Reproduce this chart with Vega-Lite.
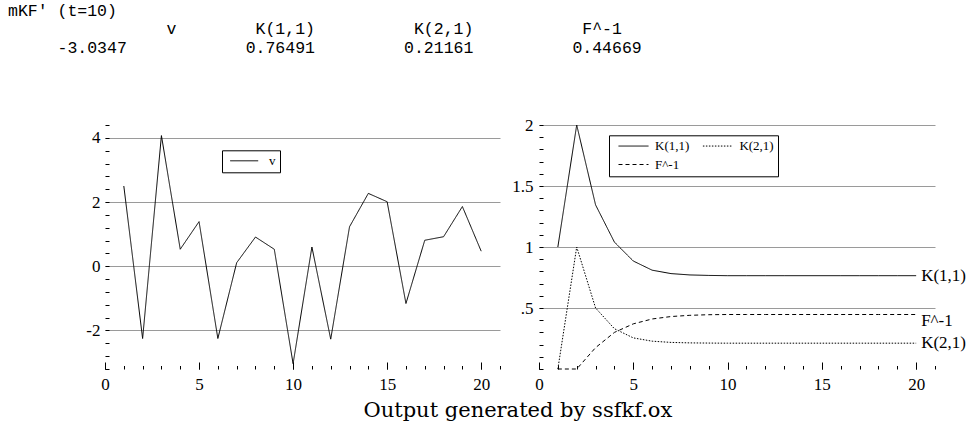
{
  "$schema": "https://vega.github.io/schema/vega-lite/v6.json",
  "background": "white",
  "padding": {"left": 8, "top": 2, "right": 0, "bottom": 0},
  "bounds": "flush",
  "title": {
    "text": ["mKF'\u00a0(t=10)", "\u200b\u00a0\u00a0\u00a0\u00a0\u00a0\u00a0\u00a0\u00a0\u00a0\u00a0\u00a0\u00a0\u00a0\u00a0\u00a0\u00a0v\u00a0\u00a0\u00a0\u00a0\u00a0\u00a0\u00a0\u00a0K(1,1)\u00a0\u00a0\u00a0\u00a0\u00a0\u00a0\u00a0\u00a0\u00a0\u00a0K(2,1)\u00a0\u00a0\u00a0\u00a0\u00a0\u00a0\u00a0\u00a0\u00a0\u00a0\u00a0F^-1", "\u200b\u00a0\u00a0\u00a0\u00a0\u00a0-3.0347\u00a0\u00a0\u00a0\u00a0\u00a0\u00a0\u00a0\u00a0\u00a0\u00a0\u00a0\u00a00.76491\u00a0\u00a0\u00a0\u00a0\u00a0\u00a0\u00a0\u00a0\u00a00.21161\u00a0\u00a0\u00a0\u00a0\u00a0\u00a0\u00a0\u00a0\u00a0\u00a00.44669"],
    "orient": "top",
    "anchor": "start",
    "frame": "group",
    "dx": -97,
    "offset": 60,
    "font": "Liberation Mono",
    "fontSize": 16.5,
    "fontWeight": "normal",
    "color": "black",
    "lineHeight": 18.5
  },
  "vconcat": [
    {
      "bounds": "flush",
      "spacing": 39,
      "resolve": {"scale": {"strokeDash": "independent"}, "legend": {"strokeDash": "independent"}},
      "title": {
        "text": "Output generated by ssfkf.ox",
        "orient": "bottom",
        "anchor": "middle",
        "dx": -8,
        "offset": 8,
        "font": "DejaVu Serif",
        "fontSize": 21,
        "fontWeight": "normal",
        "color": "black"
      },
      "hconcat": [
        {
          "width": 395,
          "height": 244,
          "data": {"values": [
            {"t": 1, "v": 2.50, "series": "v"},
            {"t": 2, "v": -2.25, "series": "v"},
            {"t": 3, "v": 4.07, "series": "v"},
            {"t": 4, "v": 0.53, "series": "v"},
            {"t": 5, "v": 1.39, "series": "v"},
            {"t": 6, "v": -2.25, "series": "v"},
            {"t": 7, "v": 0.11, "series": "v"},
            {"t": 8, "v": 0.91, "series": "v"},
            {"t": 9, "v": 0.53, "series": "v"},
            {"t": 10, "v": -3.0347, "series": "v"},
            {"t": 11, "v": 0.60, "series": "v"},
            {"t": 12, "v": -2.27, "series": "v"},
            {"t": 13, "v": 1.23, "series": "v"},
            {"t": 14, "v": 2.27, "series": "v"},
            {"t": 15, "v": 2.01, "series": "v"},
            {"t": 16, "v": -1.16, "series": "v"},
            {"t": 17, "v": 0.81, "series": "v"},
            {"t": 18, "v": 0.92, "series": "v"},
            {"t": 19, "v": 1.86, "series": "v"},
            {"t": 20, "v": 0.47, "series": "v"}
          ]},
          "layer": [
            {
              "mark": {"type": "line", "color": "black", "strokeWidth": 1},
              "encoding": {
                "x": {"field": "t", "type": "quantitative",
                  "scale": {"domain": [0, 21], "nice": false, "zero": false},
                  "axis": {"orient": "bottom", "values": [0, 5, 10, 15, 20], "ticks": false, "grid": false, "labelPadding": 7, "labelFont": "Liberation Serif", "labelFontSize": 17, "labelColor": "black", "title": null}},
                "y": {"field": "v", "type": "quantitative",
                  "scale": {"domain": [-3.2, 4.4], "nice": false, "zero": false},
                  "axis": {"orient": "left", "values": [-2, 0, 2, 4], "labelExpr": "replace(datum.label, '\u2212', '-')", "ticks": false, "grid": true, "gridColor": "#9a9a9a", "gridWidth": 1, "labelPadding": 5, "labelFont": "Liberation Serif", "labelFontSize": 17, "labelColor": "black", "title": null}},
                "strokeDash": {"field": "series", "type": "nominal",
                  "scale": {"domain": ["v"], "range": [[1, 0]]},
                  "legend": {"orient": "none", "legendX": 117, "legendY": 25.3, "title": null, "strokeColor": "black", "fillColor": "white", "padding": 4, "symbolType": "M-4.667,0H4.667", "symbolSize": 36, "symbolOffset": 11.7, "symbolStrokeWidth": 1, "symbolStrokeColor": "black", "labelFont": "Liberation Serif", "labelFontSize": 13, "labelColor": "black", "labelOffset": 18.3}}
              }
            },
            {
              "mark": {"type": "line", "opacity": 0},
              "encoding": {
                "x": {"field": "t", "type": "quantitative",
                  "axis": {"orient": "bottom", "values": [0, 5, 10, 15, 20], "tickSize": -7, "labels": false, "grid": false, "title": null}},
                "y": {"field": "v", "type": "quantitative",
                  "axis": {"orient": "left", "values": [-3.2, -2.8, -2.4, -2, -1.6, -1.2, -0.8, -0.4, 0, 0.4, 0.8, 1.2, 1.6, 2, 2.4, 2.8, 3.2, 3.6, 4, 4.4], "tickSize": -4, "labels": false, "grid": false, "title": null}}
              }
            },
            {
              "mark": {"type": "line", "opacity": 0},
              "encoding": {
                "x": {"field": "t", "type": "quantitative",
                  "axis": {"orient": "bottom", "values": [0, 1, 2, 3, 4, 5, 6, 7, 8, 9, 10, 11, 12, 13, 14, 15, 16, 17, 18, 19, 20, 21], "tickSize": -3.5, "labels": false, "grid": false, "title": null}},
                "y": {"field": "v", "type": "quantitative", "axis": null}
              }
            }
          ],
          "resolve": {"axis": {"x": "independent", "y": "independent"}}
        },
        {
          "width": 396,
          "height": 244,
          "data": {"values": [
            {"t": 1, "series": "K(1,1)", "value": 1.0},
            {"t": 2, "series": "K(1,1)", "value": 2.0},
            {"t": 3, "series": "K(1,1)", "value": 1.345},
            {"t": 4, "series": "K(1,1)", "value": 1.04},
            {"t": 5, "series": "K(1,1)", "value": 0.885},
            {"t": 6, "series": "K(1,1)", "value": 0.81},
            {"t": 7, "series": "K(1,1)", "value": 0.782},
            {"t": 8, "series": "K(1,1)", "value": 0.771},
            {"t": 9, "series": "K(1,1)", "value": 0.767},
            {"t": 10, "series": "K(1,1)", "value": 0.76491},
            {"t": 11, "series": "K(1,1)", "value": 0.76491},
            {"t": 12, "series": "K(1,1)", "value": 0.76491},
            {"t": 13, "series": "K(1,1)", "value": 0.76491},
            {"t": 14, "series": "K(1,1)", "value": 0.76491},
            {"t": 15, "series": "K(1,1)", "value": 0.76491},
            {"t": 16, "series": "K(1,1)", "value": 0.76491},
            {"t": 17, "series": "K(1,1)", "value": 0.76491},
            {"t": 18, "series": "K(1,1)", "value": 0.76491},
            {"t": 19, "series": "K(1,1)", "value": 0.76491},
            {"t": 20, "series": "K(1,1)", "value": 0.76491},
            {"t": 1, "series": "K(2,1)", "value": 0.0},
            {"t": 2, "series": "K(2,1)", "value": 1.0},
            {"t": 3, "series": "K(2,1)", "value": 0.5},
            {"t": 4, "series": "K(2,1)", "value": 0.33},
            {"t": 5, "series": "K(2,1)", "value": 0.255},
            {"t": 6, "series": "K(2,1)", "value": 0.228},
            {"t": 7, "series": "K(2,1)", "value": 0.218},
            {"t": 8, "series": "K(2,1)", "value": 0.214},
            {"t": 9, "series": "K(2,1)", "value": 0.2125},
            {"t": 10, "series": "K(2,1)", "value": 0.21161},
            {"t": 11, "series": "K(2,1)", "value": 0.21161},
            {"t": 12, "series": "K(2,1)", "value": 0.21161},
            {"t": 13, "series": "K(2,1)", "value": 0.21161},
            {"t": 14, "series": "K(2,1)", "value": 0.21161},
            {"t": 15, "series": "K(2,1)", "value": 0.21161},
            {"t": 16, "series": "K(2,1)", "value": 0.21161},
            {"t": 17, "series": "K(2,1)", "value": 0.21161},
            {"t": 18, "series": "K(2,1)", "value": 0.21161},
            {"t": 19, "series": "K(2,1)", "value": 0.21161},
            {"t": 20, "series": "K(2,1)", "value": 0.21161},
            {"t": 1, "series": "F^-1", "value": 0.0},
            {"t": 2, "series": "F^-1", "value": 0.0},
            {"t": 3, "series": "F^-1", "value": 0.175},
            {"t": 4, "series": "F^-1", "value": 0.30},
            {"t": 5, "series": "F^-1", "value": 0.37},
            {"t": 6, "series": "F^-1", "value": 0.41},
            {"t": 7, "series": "F^-1", "value": 0.43},
            {"t": 8, "series": "F^-1", "value": 0.44},
            {"t": 9, "series": "F^-1", "value": 0.445},
            {"t": 10, "series": "F^-1", "value": 0.44669},
            {"t": 11, "series": "F^-1", "value": 0.44669},
            {"t": 12, "series": "F^-1", "value": 0.44669},
            {"t": 13, "series": "F^-1", "value": 0.44669},
            {"t": 14, "series": "F^-1", "value": 0.44669},
            {"t": 15, "series": "F^-1", "value": 0.44669},
            {"t": 16, "series": "F^-1", "value": 0.44669},
            {"t": 17, "series": "F^-1", "value": 0.44669},
            {"t": 18, "series": "F^-1", "value": 0.44669},
            {"t": 19, "series": "F^-1", "value": 0.44669},
            {"t": 20, "series": "F^-1", "value": 0.44669}
          ]},
          "layer": [
            {
              "mark": {"type": "line", "color": "black", "strokeWidth": 1},
              "encoding": {
                "x": {"field": "t", "type": "quantitative",
                  "scale": {"domain": [0, 21], "nice": false, "zero": false},
                  "axis": {"orient": "bottom", "values": [0, 5, 10, 15, 20], "ticks": false, "grid": false, "labelPadding": 7, "labelFont": "Liberation Serif", "labelFontSize": 17, "labelColor": "black", "title": null}},
                "y": {"field": "value", "type": "quantitative",
                  "scale": {"domain": [0, 2], "nice": false, "zero": false},
                  "axis": {"orient": "left", "values": [0.5, 1, 1.5, 2], "labelExpr": "datum.value == 0.5 ? '.5' : format(datum.value, '~g')", "ticks": false, "grid": true, "gridColor": "#9a9a9a", "gridWidth": 1, "labelPadding": 6, "labelFont": "Liberation Serif", "labelFontSize": 17, "labelColor": "black", "title": null}},
                "strokeDash": {"field": "series", "type": "nominal",
                  "scale": {"domain": ["K(1,1)", "K(2,1)", "F^-1"], "range": [[1, 0], [1.5, 1.5], [4, 3]]},
                  "legend": {"orient": "none", "legendX": 70, "legendY": 10.3, "direction": "horizontal", "columns": 2, "columnPadding": 7.4, "rowPadding": 4.7, "title": null, "strokeColor": "black", "fillColor": "white", "padding": 4, "symbolType": "M-5,0H5", "symbolSize": 36, "symbolOffset": 14, "symbolStrokeWidth": 1, "symbolStrokeColor": "black", "labelFont": "Liberation Serif", "labelFontSize": 13, "labelColor": "black", "labelOffset": 15}}
              }
            },
            {
              "transform": [{"filter": "datum.t == 20 && datum.series != 'F^-1'"}],
              "mark": {"type": "text", "align": "left", "baseline": "middle", "dx": 5, "font": "Liberation Serif", "fontSize": 17, "color": "black"},
              "encoding": {
                "x": {"field": "t", "type": "quantitative", "axis": null},
                "y": {"field": "value", "type": "quantitative", "axis": null},
                "text": {"field": "series"}
              }
            },
            {
              "transform": [{"filter": "datum.t == 20 && datum.series == 'F^-1'"}],
              "mark": {"type": "text", "align": "left", "baseline": "middle", "dx": 5, "dy": 6, "font": "Liberation Serif", "fontSize": 17, "color": "black"},
              "encoding": {
                "x": {"field": "t", "type": "quantitative", "axis": null},
                "y": {"field": "value", "type": "quantitative", "axis": null},
                "text": {"field": "series"}
              }
            },
            {
              "mark": {"type": "line", "opacity": 0},
              "encoding": {
                "x": {"field": "t", "type": "quantitative",
                  "axis": {"orient": "bottom", "values": [0, 5, 10, 15, 20], "tickSize": -7, "labels": false, "grid": false, "title": null}},
                "y": {"field": "value", "type": "quantitative",
                  "axis": {"orient": "left", "values": [0, 0.1, 0.2, 0.3, 0.4, 0.5, 0.6, 0.7, 0.8, 0.9, 1, 1.1, 1.2, 1.3, 1.4, 1.5, 1.6, 1.7, 1.8, 1.9, 2], "tickSize": -4, "labels": false, "grid": false, "title": null}}
              }
            },
            {
              "mark": {"type": "line", "opacity": 0},
              "encoding": {
                "x": {"field": "t", "type": "quantitative",
                  "axis": {"orient": "bottom", "values": [0, 1, 2, 3, 4, 5, 6, 7, 8, 9, 10, 11, 12, 13, 14, 15, 16, 17, 18, 19, 20, 21], "tickSize": -3.5, "labels": false, "grid": false, "title": null}},
                "y": {"field": "value", "type": "quantitative", "axis": null}
              }
            }
          ],
          "resolve": {"axis": {"x": "independent", "y": "independent"}}
        }
      ]
    }
  ],
  "config": {
    "view": {"stroke": null},
    "axis": {"domain": false, "labelFont": "Liberation Serif", "labelFontSize": 17, "labelColor": "black", "tickColor": "black", "tickWidth": 1, "labelFlush": false, "labelOverlap": false}
  }
}
